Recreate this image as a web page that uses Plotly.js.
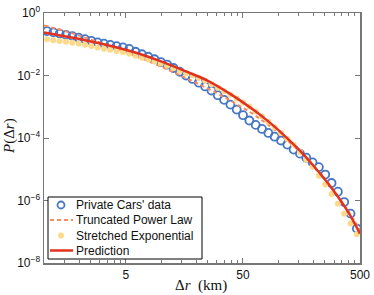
<!DOCTYPE html>
<html>
<head>
<meta charset="utf-8">
<script src="https://cdn.plot.ly/plotly-3.0.1.min.js"></script>
<style>html,body{margin:0;padding:0;background:#fff;}#chart{width:374px;height:295px;}</style>
</head>
<body>
<div id="chart"></div>
<script>
// Private cars' data (open circles)
const dataX = [1.062,1.202,1.361,1.542,1.746,1.977,2.239,2.535,2.871,3.251,3.681,4.169,4.721,5.346,6.053,6.855,7.762,8.790,9.954,11.27,12.76,14.45,16.37,18.54,20.99,23.77,26.92,30.48,34.51,39.08,44.26,50.12,56.75,64.27,72.78,82.41,93.33,105.7,119.7,135.5,153.5,173.8,196.8,222.8,252.4,285.8,323.6,366.4,415.0,469.9];
const dataY = [0.263,0.240,0.219,0.200,0.182,0.162,0.145,0.129,0.115,0.105,0.0955,0.0871,0.0794,0.0708,0.0575,0.0479,0.0398,0.0331,0.0269,0.0224,0.0174,0.0132,0.0100,0.00776,0.00589,0.00447,0.00331,0.00234,0.00166,0.00117,8.13e-4,5.37e-4,3.63e-4,2.63e-4,1.95e-4,1.45e-4,1.10e-4,8.32e-5,6.17e-5,4.27e-5,3.16e-5,2.34e-5,1.66e-5,1.17e-5,6.76e-6,3.63e-6,1.91e-6,8.91e-7,3.80e-7,1.26e-7];
// Truncated power law (dashed)
const tplX = [1,1.585,2.512,3.981,6.310,10,15.85,25.12,39.81,63.10,100,158.5,251.2,398.1,500];
const tplY = [0.398,0.251,0.141,0.0794,0.0398,0.0191,0.00871,0.00380,0.00151,5.37e-4,1.48e-4,3.16e-5,4.79e-6,4.47e-7,1.12e-7];
// Stretched exponential (dots)
const seX = dataX;
const seY = [0.145,0.135,0.126,0.120,0.112,0.105,0.0955,0.0871,0.0794,0.0724,0.0661,0.0603,0.0562,0.0501,0.0427,0.0372,0.0324,0.0282,0.0240,0.0204,0.0170,0.0141,0.0117,0.0100,0.00832,0.00676,0.00525,0.00407,0.00316,0.00240,0.00182,0.00138,0.00102,7.08e-4,4.90e-4,3.31e-4,2.19e-4,1.45e-4,9.33e-5,6.03e-5,3.55e-5,2.04e-5,1.20e-5,6.17e-6,3.24e-6,1.62e-6,7.94e-7,3.80e-7,1.82e-7,8.32e-8];
// Prediction (solid)
const predX = [1,1.585,2.512,3.981,6.310,10,15.85,25.12,39.81,63.10,79.43,100,125.9,158.5,199.5,251.2,316.2,398.1,500];
const predY = [0.240,0.174,0.123,0.0832,0.0513,0.0282,0.0141,0.00676,0.00245,7.41e-4,3.80e-4,1.82e-4,8.13e-5,3.47e-5,1.32e-5,4.68e-6,1.51e-6,4.17e-7,8.71e-8];

const seriesNames = ["Private Cars' data","Truncated Power Law","Stretched Exponential","Prediction"];
const xTickVals = [5,50,500];
const xTickText = ["5","50","500"];
const xMinorVals = [1,1.5,2,2.5,3,3.5,4,4.5,10,15,20,25,30,35,40,45,100,150,200,250,300,350,400,450];
const yTickVals = [1e-8,1e-6,1e-4,1e-2,1];
const yTickText = ["10<sup>−8</sup>","10<sup>−6</sup>","10<sup>−4</sup>","10<sup>−2</sup>","10<sup>0</sup>"];

const colors = {data: '#4677c6', tpl: '#f68a62', se: '#fdd98a', pred: '#e2321f'};

const traces = [
  {x: dataX, y: dataY, name: seriesNames[0], type: 'scatter', mode: 'markers',
   marker: {symbol: 'circle-open', size: 8, color: colors.data, line: {width: 1.8, color: colors.data}}},
  {x: tplX, y: tplY, name: seriesNames[1], type: 'scatter', mode: 'lines',
   line: {color: colors.tpl, width: 2, dash: '4px,3px', shape: 'spline'}},
  {x: seX, y: seY, name: seriesNames[2], type: 'scatter', mode: 'markers',
   marker: {symbol: 'circle', size: 6, color: colors.se}},
  {x: predX, y: predY, name: seriesNames[3], type: 'scatter', mode: 'lines',
   line: {color: colors.pred, width: 2.5, shape: 'spline'}}
];

// plot-area geometry (pixels) used only for placing the legend box
const M = {l: 44, r: 14, t: 13, b: 32};
const PW = 374 - M.l - M.r, PH = 295 - M.t - M.b;
const px = v => (v - M.l) / PW;
const py = v => (295 - M.b - v) / PH;

const rows = [205, 220, 235.5, 250.5];
const shapes = [
  {type: 'rect', xref: 'paper', yref: 'paper', x0: px(48), x1: px(202), y0: py(259), y1: py(197),
   line: {color: '#000', width: 1}, fillcolor: '#fff', layer: 'above'},
  {type: 'circle', xref: 'paper', yref: 'paper', x0: px(57.5), x1: px(64.5), y0: py(rows[0] + 3.5), y1: py(rows[0] - 3.5),
   line: {color: colors.data, width: 1.8}, layer: 'above'},
  {type: 'line', xref: 'paper', yref: 'paper', x0: px(50), x1: px(73), y0: py(rows[1]), y1: py(rows[1]),
   line: {color: colors.tpl, width: 2, dash: '4px,3px'}, layer: 'above'},
  {type: 'circle', xref: 'paper', yref: 'paper', x0: px(58), x1: px(64), y0: py(rows[2] + 3), y1: py(rows[2] - 3),
   line: {color: colors.se, width: 0}, fillcolor: colors.se, layer: 'above'},
  {type: 'line', xref: 'paper', yref: 'paper', x0: px(50), x1: px(73), y0: py(rows[3]), y1: py(rows[3]),
   line: {color: colors.pred, width: 2.5}, layer: 'above'}
];

const legendFont = {family: 'Liberation Sans, Arial, sans-serif', size: 12, color: '#111'};
const annotations = seriesNames.map((n, i) => ({
  text: n, xref: 'paper', yref: 'paper', x: px(74), y: py(rows[i]), xanchor: 'left', yanchor: 'middle',
  showarrow: false, font: legendFont
}));
annotations.push(
  {text: '<i>P</i>(Δ<i>r</i>)', xref: 'paper', yref: 'paper', x: px(9), y: py(136),
   xanchor: 'center', yanchor: 'middle', textangle: -90, showarrow: false,
   font: {family: 'Liberation Serif, DejaVu Serif, serif', size: 15, color: '#111'}},
  {text: 'Δ<i>r</i>  (km)', xref: 'paper', yref: 'paper', x: px(201), y: py(285),
   xanchor: 'center', yanchor: 'middle', showarrow: false,
   font: {family: 'Liberation Serif, DejaVu Serif, serif', size: 15, color: '#111'}}
);

const axisCommon = {
  showline: true, linecolor: '#777', linewidth: 1.5, mirror: 'ticks',
  ticks: 'inside', tickcolor: '#777', tickwidth: 1, showgrid: false, zeroline: false,
  tickfont: {family: 'Liberation Sans, Arial, sans-serif', size: 12, color: '#111'}
};

const layout = {
  width: 374, height: 295,
  margin: {l: M.l, r: M.r, t: M.t, b: M.b},
  paper_bgcolor: '#fff', plot_bgcolor: '#fff',
  showlegend: false,
  xaxis: Object.assign({}, axisCommon, {
    type: 'log', range: [0, Math.log10(500)], tickmode: 'array', tickvals: xTickVals, ticktext: xTickText,
    ticklen: 5,
    minor: {tickmode: 'array', tickvals: xMinorVals, ticks: 'inside', ticklen: 3, tickcolor: '#777', showgrid: false}
  }),
  yaxis: Object.assign({}, axisCommon, {
    type: 'log', range: [-8, 0], tickmode: 'array', tickvals: yTickVals, ticktext: yTickText, ticklen: 5
  }),
  shapes: shapes,
  annotations: annotations
};

Plotly.newPlot('chart', traces, layout, {displayModeBar: false, staticPlot: true});
</script>
</body>
</html>
